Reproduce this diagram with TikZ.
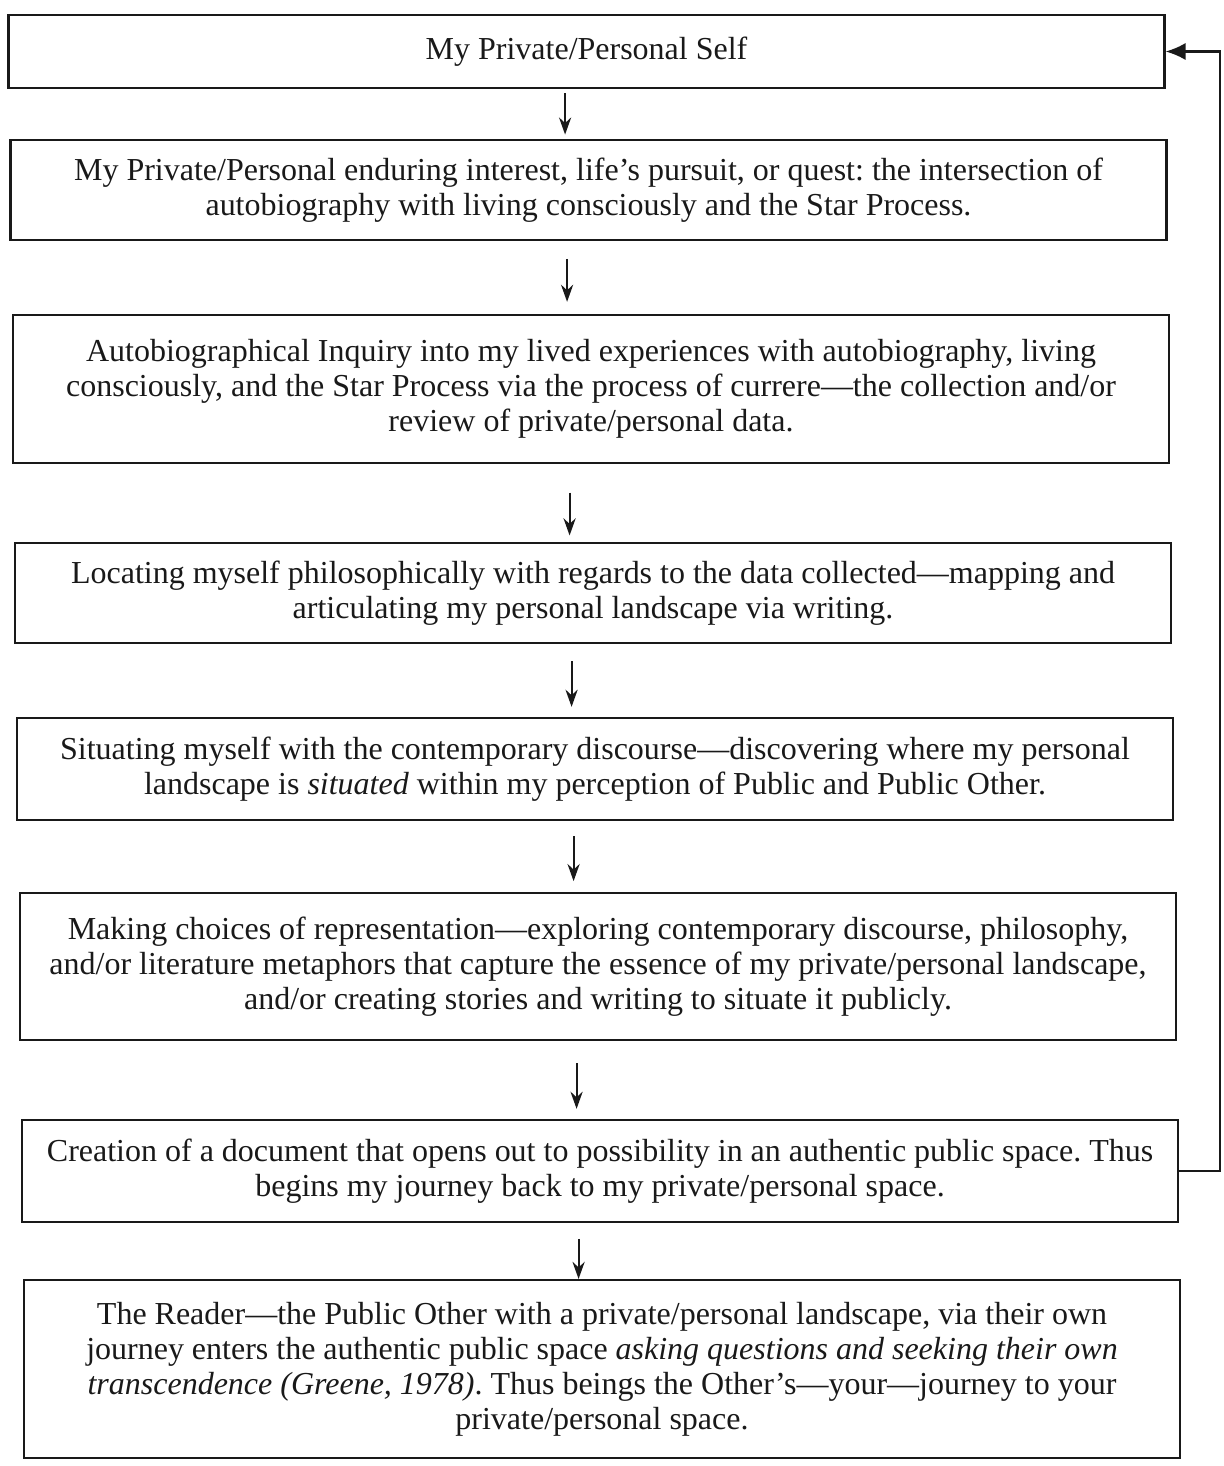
\documentclass[tikz,border=0pt]{standalone}
\usepackage{fontspec}
\setmainfont{Liberation Serif}
\usetikzlibrary{arrows.meta}
\frenchspacing
\begin{document}
\begin{tikzpicture}[x=0.014cm,y=-0.014cm,
  box/.style={draw=black!90, line width=0.9pt, align=center, inner sep=0pt,
    minimum width=16.19cm, font=\fontsize{12.75}{13.9}\selectfont, text=black!90},
  down/.style={line width=0.8pt, draw=black!90, -{Stealth[length=2.4mm,width=1.7mm]}},
  back/.style={line width=0.9pt, draw=black!90, -{Latex[length=2.8mm,width=2.4mm]}}]
\useasboundingbox (0,0) rectangle (1223,1466);

\node[box, minimum height=1.02cm] (b1) at (586.5,51.5) {My Private/Personal Self};
\node[box, minimum height=1.40cm] (b2) at (588.5,190)
  {My Private/Personal enduring interest, life’s pursuit, or quest: the intersection of\\
   autobiography with living consciously and the Star Process.};
\node[box, minimum height=2.07cm] (b3) at (591,389)
  {Autobiographical Inquiry into my lived experiences with autobiography, living\\
   consciously, and the Star Process via the process of currere—the collection and/or\\
   review of private/personal data.};
\node[box, minimum height=1.40cm] (b4) at (593,593)
  {Locating myself philosophically with regards to the data collected—mapping and\\
   articulating my personal landscape via writing.};
\node[box, minimum height=1.43cm] (b5) at (595,769)
  {Situating myself with the contemporary discourse—discovering where my personal\\
   landscape is \textit{situated} within my perception of Public and Public Other.};
\node[box, minimum height=2.06cm] (b6) at (598,966.5)
  {Making choices of representation—exploring contemporary discourse, philosophy,\\
   and/or literature metaphors that capture the essence of my private/personal landscape,\\
   and/or creating stories and writing to situate it publicly.};
\node[box, minimum height=1.43cm] (b7) at (600,1171)
  {Creation of a document that opens out to possibility in an authentic public space. Thus\\
   begins my journey back to my private/personal space.};
\node[box, minimum height=2.49cm] (b8) at (602,1369)
  {The Reader—the Public Other with a private/personal landscape, via their own\\
   journey enters the authentic public space \textit{asking questions and seeking their own}\\
   \textit{transcendence (Greene, 1978)}. Thus beings the Other’s—your—journey to your\\
   private/personal space.};

% downward flow between the steps
\draw[down, shorten <=0.06cm, shorten >=0.06cm] ([xshift=-0.30cm]b1.south) -- ([xshift=-0.30cm]b1.south |- b2.north);
\draw[down, shorten <=0.25cm, shorten >=0.17cm] ([xshift=-0.30cm]b2.south) -- ([xshift=-0.30cm]b2.south |- b3.north);
\draw[down, shorten <=0.40cm, shorten >=0.09cm] ([xshift=-0.30cm]b3.south) -- ([xshift=-0.30cm]b3.south |- b4.north);
\draw[down, shorten <=0.24cm, shorten >=0.14cm] ([xshift=-0.30cm]b4.south) -- ([xshift=-0.30cm]b4.south |- b5.north);
\draw[down, shorten <=0.21cm, shorten >=0.15cm] ([xshift=-0.30cm]b5.south) -- ([xshift=-0.30cm]b5.south |- b6.north);
\draw[down, shorten <=0.31cm, shorten >=0.14cm] ([xshift=-0.30cm]b6.south) -- ([xshift=-0.30cm]b6.south |- b7.north);
\draw[down, shorten <=0.22cm, shorten >=0.00cm] ([xshift=-0.30cm]b7.south) -- ([xshift=-0.30cm]b7.south |- b8.north);

% return path to the private self
\coordinate (rt) at (1220,0);
\draw[back] (b7.east) -- (b7.east -| rt) -- (b1.east -| rt) -- (b1.east);
\end{tikzpicture}
\end{document}
